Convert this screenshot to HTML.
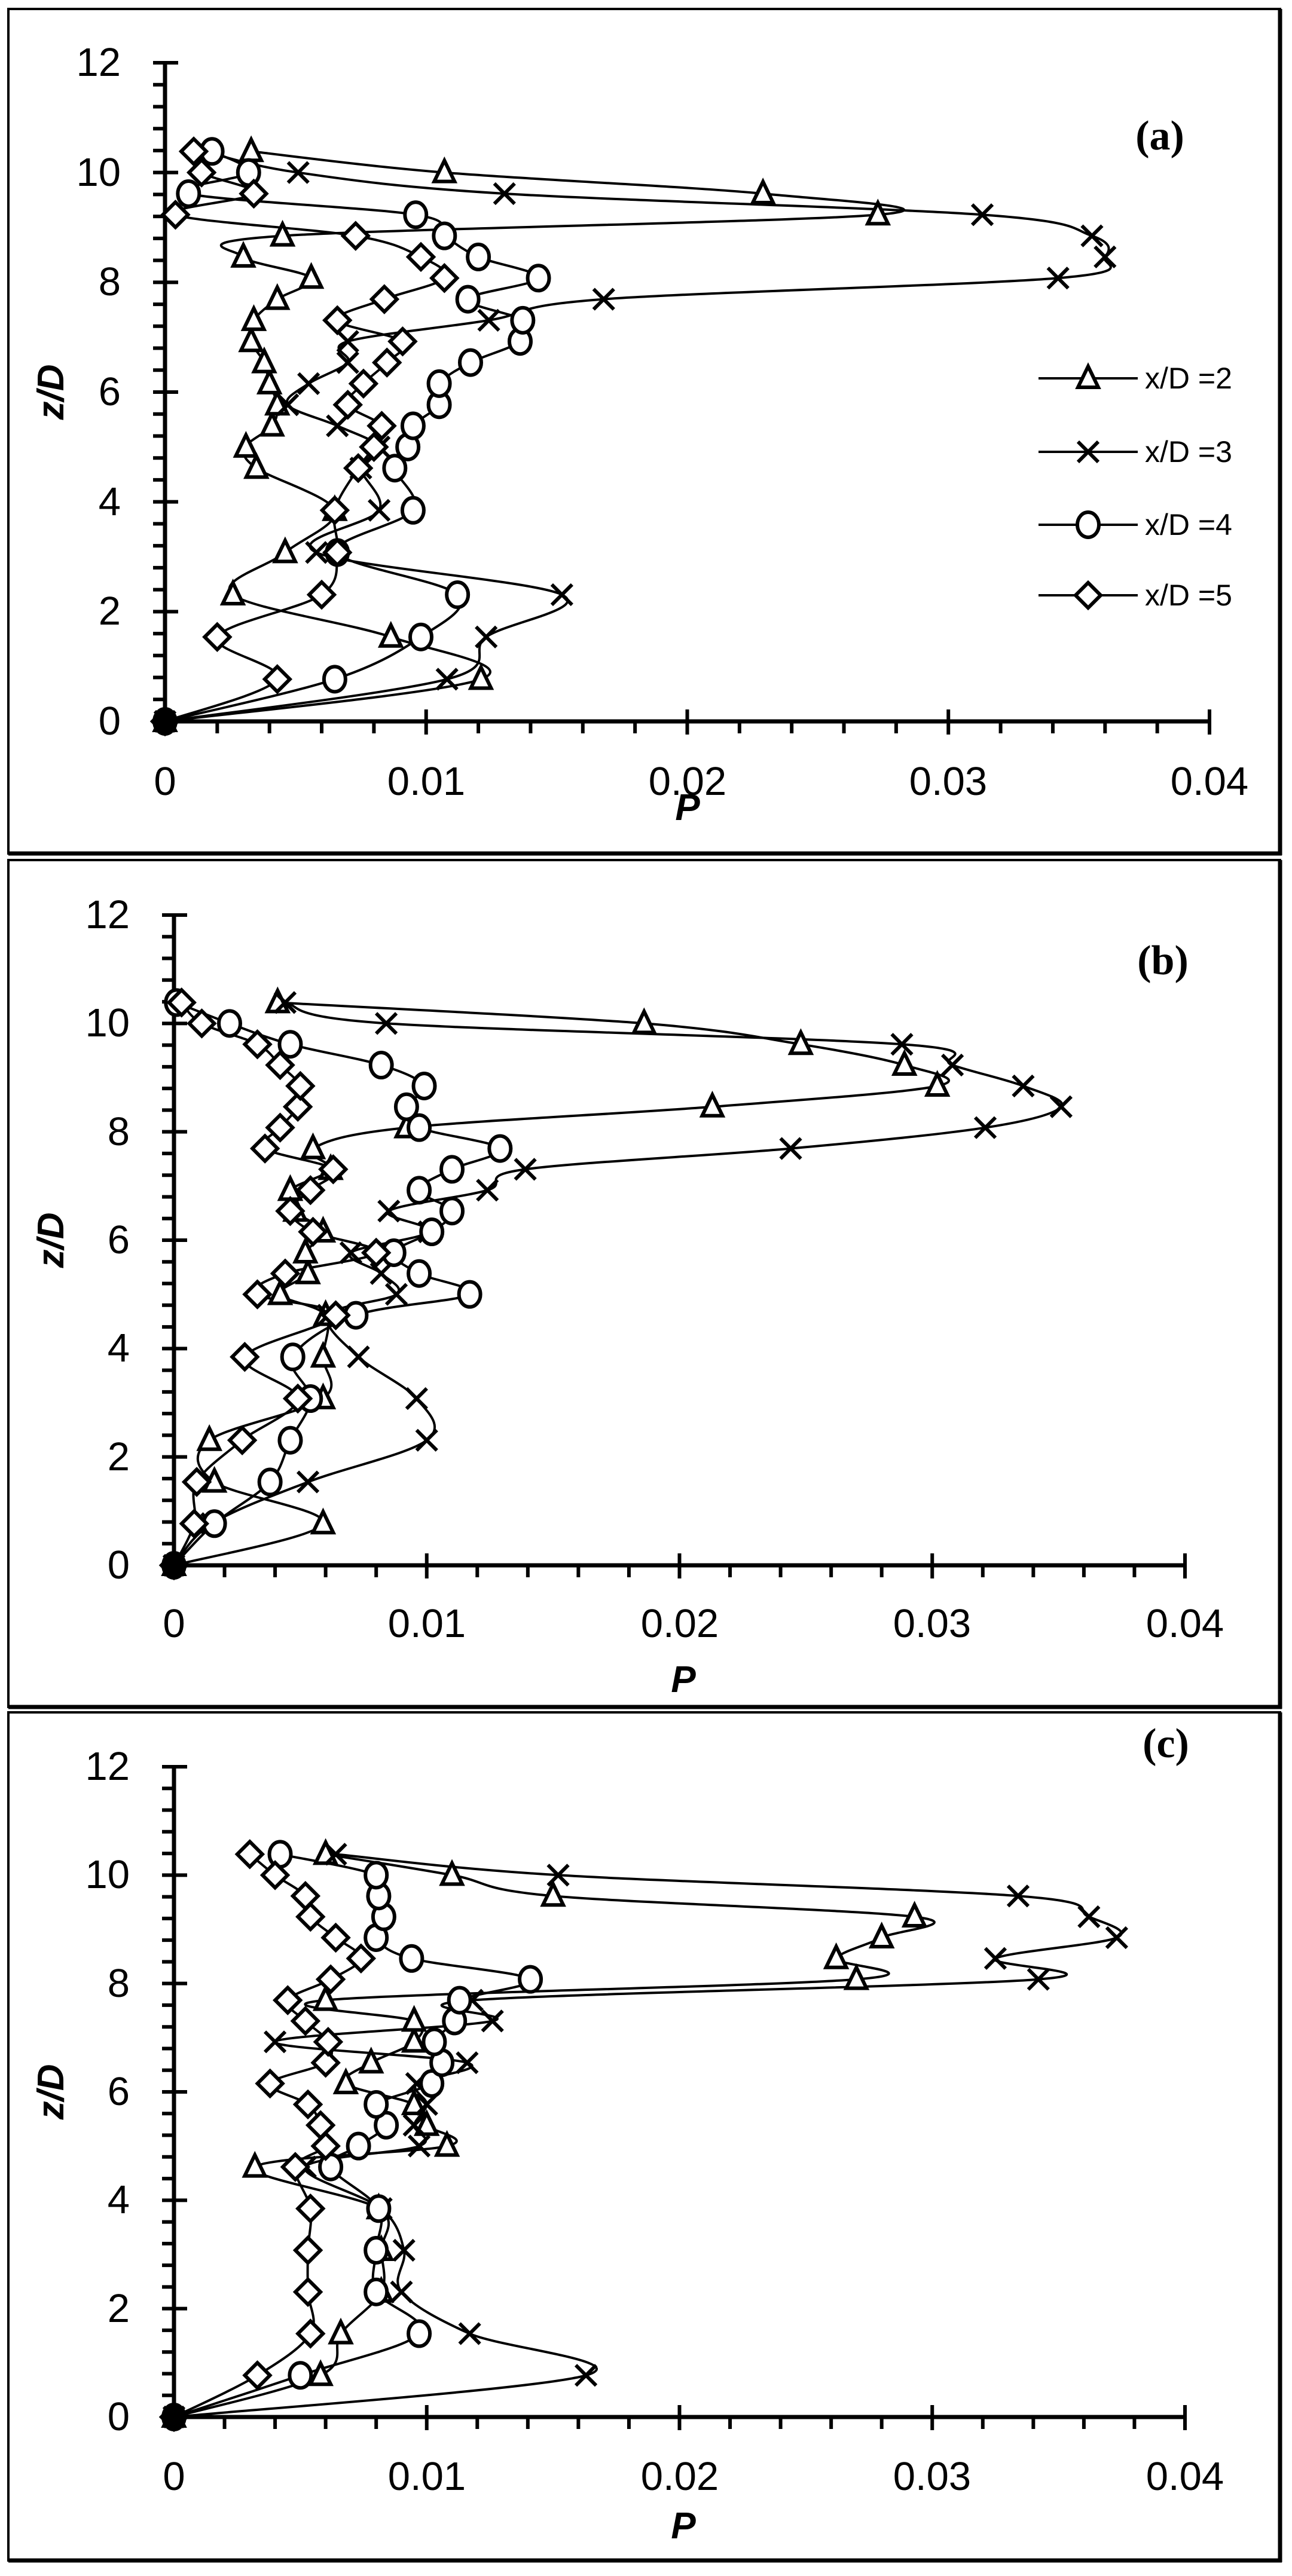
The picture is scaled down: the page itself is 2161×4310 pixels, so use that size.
<!DOCTYPE html>
<html><head><meta charset="utf-8">
<style>
html,body{margin:0;padding:0;background:#fff;}
svg{display:block;}
.t{font-family:"Liberation Sans",sans-serif;font-size:67px;fill:#000;}
.ax{font-family:"Liberation Sans",sans-serif;font-size:62px;font-weight:bold;font-style:italic;fill:#000;}
.pl{font-family:"Liberation Serif",serif;font-size:70px;font-weight:bold;fill:#000;}
.lg{font-family:"Liberation Sans Narrow","Liberation Sans",sans-serif;font-size:50px;fill:#000;}
</style></head>
<body>
<svg id="s" width="2161" height="4310" viewBox="0 0 2161 4310" xmlns="http://www.w3.org/2000/svg">
<rect x="0" y="0" width="2161" height="4310" fill="#fff"/>
<g fill="none" stroke="#000">
<rect x="14" y="15" width="2127" height="1413" stroke-width="4"/>
<line x1="14" y1="1428" x2="2144" y2="1428" stroke-width="7"/><line x1="2141" y1="15" x2="2141" y2="1431" stroke-width="7"/>
<rect x="14" y="1439" width="2127" height="1417" stroke-width="4"/>
<line x1="14" y1="2856" x2="2144" y2="2856" stroke-width="7"/><line x1="2141" y1="1439" x2="2141" y2="2859" stroke-width="7"/>
<rect x="14" y="2865" width="2127" height="1419" stroke-width="4"/>
<line x1="14" y1="4284" x2="2144" y2="4284" stroke-width="7"/><line x1="2141" y1="2865" x2="2141" y2="4287" stroke-width="7"/>
</g>
<g id="plots"></g>

<g class="t" text-anchor="end">
<text x="202" y="1229">0</text><text x="202" y="1045">2</text><text x="202" y="862">4</text><text x="202" y="678">6</text><text x="202" y="494">8</text><text x="202" y="311">10</text><text x="202" y="127">12</text>
</g>
<g class="t" text-anchor="middle">
<text x="276" y="1330">0</text><text x="713" y="1330">0.01</text><text x="1150" y="1330">0.02</text><text x="1586" y="1330">0.03</text><text x="2023" y="1330">0.04</text>
</g>
<text class="ax" x="1150" y="1372" text-anchor="middle">P</text>
<text class="ax" transform="translate(106,656) rotate(-90)" text-anchor="middle">z/D</text>
<text class="pl" x="1940" y="250" text-anchor="middle">(a)</text>
<g class="lg">
<text x="1915" y="650">x/D =2</text>
<text x="1915" y="773">x/D =3</text>
<text x="1915" y="895">x/D =4</text>
<text x="1915" y="1013">x/D =5</text>
</g>

<g class="t" text-anchor="end">
<text x="217" y="2641">0</text><text x="217" y="2460">2</text><text x="217" y="2278">4</text><text x="217" y="2097">6</text><text x="217" y="1916">8</text><text x="217" y="1734">10</text><text x="217" y="1553">12</text>
</g>
<g class="t" text-anchor="middle">
<text x="291" y="2739">0</text><text x="714" y="2739">0.01</text><text x="1137" y="2739">0.02</text><text x="1559" y="2739">0.03</text><text x="1982" y="2739">0.04</text>
</g>
<text class="ax" x="1143" y="2831" text-anchor="middle">P</text>
<text class="ax" transform="translate(106,2075) rotate(-90)" text-anchor="middle">z/D</text>
<text class="pl" x="1945" y="1630" text-anchor="middle">(b)</text>

<g class="t" text-anchor="end">
<text x="217" y="4066">0</text><text x="217" y="3885">2</text><text x="217" y="3703">4</text><text x="217" y="3522">6</text><text x="217" y="3341">8</text><text x="217" y="3159">10</text><text x="217" y="2978">12</text>
</g>
<g class="t" text-anchor="middle">
<text x="291" y="4166">0</text><text x="714" y="4166">0.01</text><text x="1137" y="4166">0.02</text><text x="1559" y="4166">0.03</text><text x="1982" y="4166">0.04</text>
</g>
<text class="ax" x="1143" y="4247" text-anchor="middle">P</text>
<text class="ax" transform="translate(106,3500) rotate(-90)" text-anchor="middle">z/D</text>
<text class="pl" x="1950" y="2940" text-anchor="middle">(c)</text>
</svg>
<script>
(function(){
var NS="http://www.w3.org/2000/svg";
var g=document.getElementById("plots");
function el(n,a){var e=document.createElementNS(NS,n);for(var k in a)e.setAttribute(k,a[k]);g.appendChild(e);return e;}
var Z=[0,0.769,1.538,2.308,3.077,3.846,4.615,5.0,5.385,5.769,6.154,6.538,6.923,7.308,7.692,8.077,8.462,8.846,9.231,9.615,10.0,10.385];
var P=[
{x0:276,x1:2023,y0:1207,y1:105,
 d:[[0,.0121,.00865,.0026,.0046,.0065,.0035,.0031,.0041,.0043,.0040,.0038,.0033,.0034,.0043,.0056,.0030,.0045,.0273,.0229,.0107,.0033],
    [0,.0108,.0123,.0152,.0058,.0082,.0075,.0082,.0066,.0047,.0055,.0070,.0070,.0124,.0168,.0342,.0360,.0355,.0313,.0130,.0051,.0015],
    [0,.0065,.0098,.0112,.0066,.0095,.0088,.0093,.0095,.0105,.0105,.0117,.0136,.0137,.0116,.0143,.0120,.0107,.0096,.0009,.0032,.0018],
    [0,.0043,.0020,.0060,.0066,.0065,.0074,.0080,.0083,.0070,.0076,.0085,.0091,.0066,.0084,.0107,.0098,.0073,.0004,.0034,.0014,.0011]]},
{x0:291,x1:1982,y0:2619,y1:1531,
 d:[[0,.0059,.0016,.0014,.0059,.0059,.0060,.0042,.0053,.0052,.0059,.0048,.0046,.0062,.0055,.0092,.0213,.0302,.0289,.0248,.0186,.0041],
    [0,.0015,.0053,.0100,.0096,.0073,.0061,.0088,.0082,.0070,.0101,.0085,.0124,.0139,.0244,.0321,.0351,.0336,.0308,.0288,.0084,.0044],
    [0,.0016,.0038,.0046,.0054,.0047,.0072,.0117,.0097,.0087,.0102,.0110,.0097,.0110,.0129,.0097,.0092,.0099,.0082,.0046,.0022,.0001],
    [0,.0008,.0009,.0027,.0049,.0028,.0064,.0033,.0044,.0080,.0055,.0046,.0054,.0063,.0036,.0042,.0049,.0050,.0042,.0033,.0011,.0003]]},
{x0:291,x1:1982,y0:4044,y1:2956,
 d:[[0,.0058,.0066,.0082,.0082,.0081,.0032,.0108,.0100,.0095,.0068,.0078,.0095,.0095,.0060,.0270,.0262,.0280,.0293,.0150,.0110,.0060],
    [0,.0163,.0117,.0090,.0091,.0082,.0052,.0097,.0095,.0100,.0096,.0116,.0040,.0126,.0118,.0342,.0325,.0373,.0362,.0334,.0152,.0064],
    [0,.0050,.0097,.0080,.0080,.0081,.0062,.0073,.0084,.0080,.0102,.0106,.0103,.0111,.0113,.0141,.0094,.0080,.0083,.0081,.0080,.0042],
    [0,.0033,.0054,.0053,.0053,.0054,.0048,.0060,.0058,.0053,.0038,.0060,.0061,.0052,.0045,.0062,.0074,.0064,.0054,.0052,.0040,.0030]]}
];
function marker(t,x,y){
  var sw=6;
  if(t==0){el("polygon",{points:(x)+","+(y-20)+" "+(x-17)+","+(y+15)+" "+(x+17)+","+(y+15),fill:"#fff",stroke:"#000","stroke-width":sw,"stroke-linejoin":"miter"});}
  else if(t==1){el("path",{d:"M"+(x-17)+","+(y-17)+"L"+(x+17)+","+(y+17)+"M"+(x+17)+","+(y-17)+"L"+(x-17)+","+(y+17),stroke:"#000","stroke-width":sw,fill:"none"});}
  else if(t==2){el("ellipse",{cx:x,cy:y,rx:18,ry:21,fill:"#fff",stroke:"#000","stroke-width":sw});}
  else {el("polygon",{points:x+","+(y-21)+" "+(x+21)+","+y+" "+x+","+(y+21)+" "+(x-21)+","+y,fill:"#fff",stroke:"#000","stroke-width":sw});}
}
P.forEach(function(p){
  var sx=(p.x1-p.x0)/0.04, sy=(p.y0-p.y1)/12;
  el("line",{x1:p.x0,y1:p.y1-3,x2:p.x0,y2:p.y0+3,stroke:"#000","stroke-width":7});
  el("line",{x1:p.x0-3,y1:p.y0,x2:p.x1,y2:p.y0,stroke:"#000","stroke-width":7});
  for(var i=0;i<=30;i++){var y=p.y0-i*0.4*sy;
    if(i%5==0) el("line",{x1:p.x0-20,y1:y,x2:p.x0+22,y2:y,stroke:"#000","stroke-width":6});
    else el("line",{x1:p.x0-20,y1:y,x2:p.x0,y2:y,stroke:"#000","stroke-width":6});}
  for(var i=0;i<=20;i++){var x=p.x0+i*0.002*sx;
    if(i%5==0) el("line",{x1:x,y1:p.y0-20,x2:x,y2:p.y0+22,stroke:"#000","stroke-width":6});
    else el("line",{x1:x,y1:p.y0,x2:x,y2:p.y0+20,stroke:"#000","stroke-width":6});}
  p.d.forEach(function(s,t){
    var pts=s.map(function(v,k){return [p.x0+v*sx,p.y0-Z[k]*sy];});
    var d="M"+pts[0][0]+","+pts[0][1];
    for(var i=0;i<pts.length-1;i++){
      var a=pts[Math.max(i-1,0)],b=pts[i],c=pts[i+1],e=pts[Math.min(i+2,pts.length-1)];
      var c1=[b[0]+(c[0]-a[0])/6,b[1]+(c[1]-a[1])/6],c2=[c[0]-(e[0]-b[0])/6,c[1]-(e[1]-b[1])/6];
      d+="C"+c1[0].toFixed(1)+","+c1[1].toFixed(1)+" "+c2[0].toFixed(1)+","+c2[1].toFixed(1)+" "+c[0].toFixed(1)+","+c[1].toFixed(1);
    }
    el("path",{d:d,fill:"none",stroke:"#000","stroke-width":4});
  });
  p.d.forEach(function(s,t){s.forEach(function(v,k){marker(t,p.x0+v*sx,p.y0-Z[k]*sy);});});
  el("circle",{cx:p.x0,cy:p.y0,r:20,fill:"#000"});
});
var ly=[633,756,878,996];
ly.forEach(function(y,t){el("line",{x1:1737,y1:y,x2:1903,y2:y,stroke:"#000","stroke-width":4});marker(t,1820,y);});
})();
</script>
</body></html>
